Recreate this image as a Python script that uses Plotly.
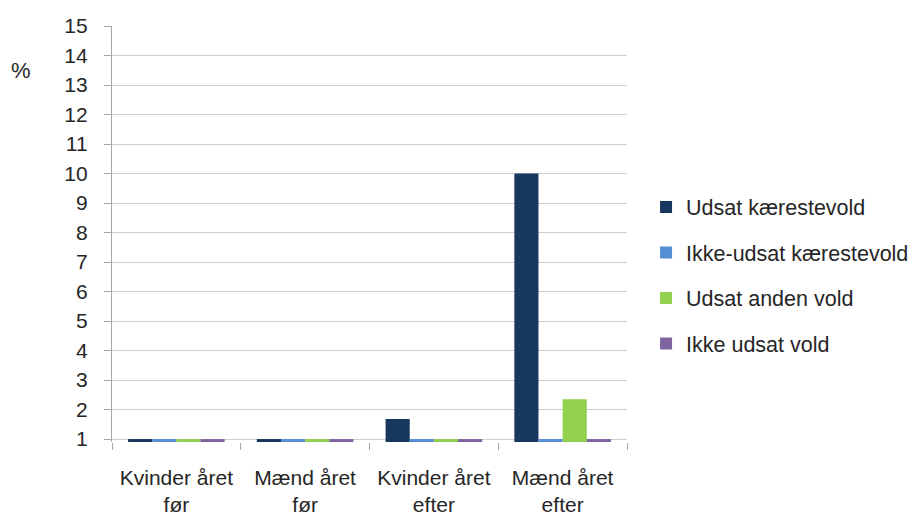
import plotly.graph_objects as go

categories = ["Kvinder året<br>før", "Mænd året<br>før", "Kvinder året<br>efter", "Mænd året<br>efter"]
series_names = ["Udsat kærestevold", "Ikke-udsat kærestevold", "Udsat anden vold", "Ikke udsat vold"]
udsat_kaerestevold = [1.0, 1.0, 1.68, 10.0]
ikke_udsat_kaerestevold = [1.0, 1.0, 1.0, 1.0]
udsat_anden_vold = [1.0, 1.0, 1.0, 2.35]
ikke_udsat_vold = [1.0, 1.0, 1.0, 1.0]
y_ticks = list(range(1, 16))
colors = ["#17375E", "#558ED5", "#92D050", "#8064A2"]

FONT = "Liberation Sans"
TXT = "#262626"

fig = go.Figure()
for i, (name, vals) in enumerate(zip(series_names,
                                     [udsat_kaerestevold, ikke_udsat_kaerestevold,
                                      udsat_anden_vold, ikke_udsat_vold])):
    fig.add_trace(go.Bar(x=categories, y=vals, name=name, legendgroup=str(i),
                         marker=dict(color=colors[i], line=dict(width=0))))

fig.update_layout(
    width=915, height=512,
    barmode="group", bargap=0.25, bargroupgap=0,
    plot_bgcolor="white", paper_bgcolor="white",
    margin=dict(l=104, r=296, t=18, b=78, autoexpand=False),
    font=dict(family=FONT, size=21, color=TXT),
    legend=dict(x=1.037, y=0.40, xanchor="left", yanchor="middle",
                font=dict(family=FONT, size=21.5, color=TXT),
                tracegroupgap=14.5, itemwidth=30),
    xaxis=dict(showline=False, ticks="outside", tickson="boundaries", ticklen=7,
               tickcolor="#A6A6A6", tickfont=dict(size=21, color=TXT),
               ticklabelstandoff=21, automargin=False),
    yaxis=dict(range=[0.9, 15], tickvals=y_ticks, showgrid=True, gridcolor="#CFCFCF",
               gridwidth=1.3, showline=True, linecolor="#A6A6A6", linewidth=1.3,
               ticks="outside", ticklen=7, tickcolor="#A6A6A6", zeroline=False,
               tickfont=dict(size=21, color=TXT), ticklabelstandoff=12,
               automargin=False),
    annotations=[dict(text="%", xref="paper", yref="paper", x=-0.177, y=0.894,
                      xanchor="center", yanchor="middle", showarrow=False,
                      font=dict(size=22, color=TXT, family=FONT))],
    showlegend=True,
)
fig.write_html("out.html")
